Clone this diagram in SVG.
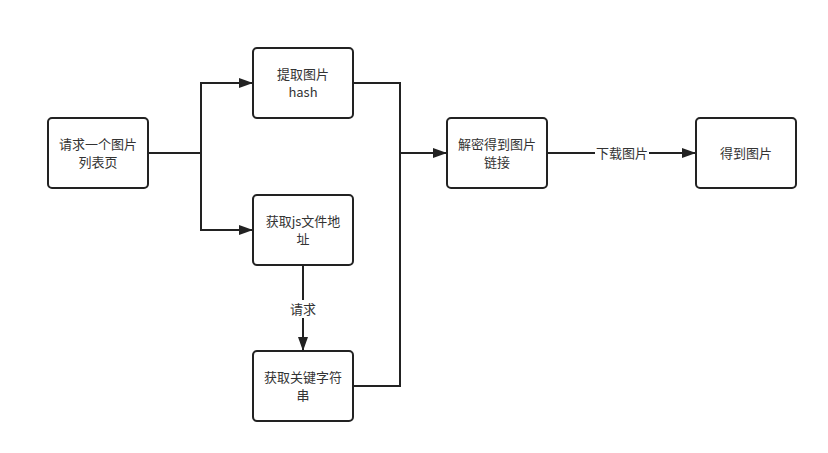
<svg xmlns="http://www.w3.org/2000/svg" width="828" height="453" viewBox="0 0 828 453">
<style>
.n rect{fill:#fff;stroke:#222;stroke-width:2}
text{font-family:"Noto Sans CJK SC","Liberation Sans",sans-serif;font-size:13px;fill:#333;text-anchor:middle}
.c path{fill:none;stroke:#222;stroke-width:2}
.lb{fill:#fff}
</style>
<defs>
<marker id="a" viewBox="0 0 14 10" refX="14" refY="5" markerWidth="14" markerHeight="10" markerUnits="userSpaceOnUse" orient="auto"><path d="M0,0 L14,5 L0,10 z" fill="#222"/></marker>
</defs>
<rect width="828" height="453" fill="#fff"/>
<g class="c">
<path d="M148,153 H201 V83 H253" marker-end="url(#a)"/>
<path d="M201,153 V230 H253" marker-end="url(#a)"/>
<path d="M353,83 H400 V386 H353"/>
<path d="M400,153 H447" marker-end="url(#a)"/>
<path d="M303,265 V351" marker-end="url(#a)"/>
<path d="M547,153 H696" marker-end="url(#a)"/>
<rect class="lb" x="289" y="300" width="28" height="18"/>
<text x="303" y="314">请求</text>
<rect class="lb" x="595" y="144" width="54" height="18"/>
<text x="622" y="158">下载图片</text>
</g>
<g id="n1" class="n"><rect x="48" y="118" width="100" height="70" rx="4"/><text x="98" y="149">请求一个图片</text><text x="98" y="167">列表页</text></g>
<g id="n2" class="n"><rect x="253" y="48" width="100" height="70" rx="4"/><text x="303" y="79">提取图片</text><text x="303" y="97">hash</text></g>
<g id="n3" class="n"><rect x="253" y="195" width="100" height="70" rx="4"/><text x="303" y="226">获取js文件地</text><text x="303" y="244">址</text></g>
<g id="n4" class="n"><rect x="253" y="351" width="100" height="70" rx="4"/><text x="303" y="382">获取关键字符</text><text x="303" y="400">串</text></g>
<g id="n5" class="n"><rect x="447" y="118" width="100" height="70" rx="4"/><text x="497" y="149">解密得到图片</text><text x="497" y="167">链接</text></g>
<g id="n6" class="n"><rect x="696" y="118" width="100" height="70" rx="4"/><text x="746" y="158">得到图片</text></g>
</svg>
